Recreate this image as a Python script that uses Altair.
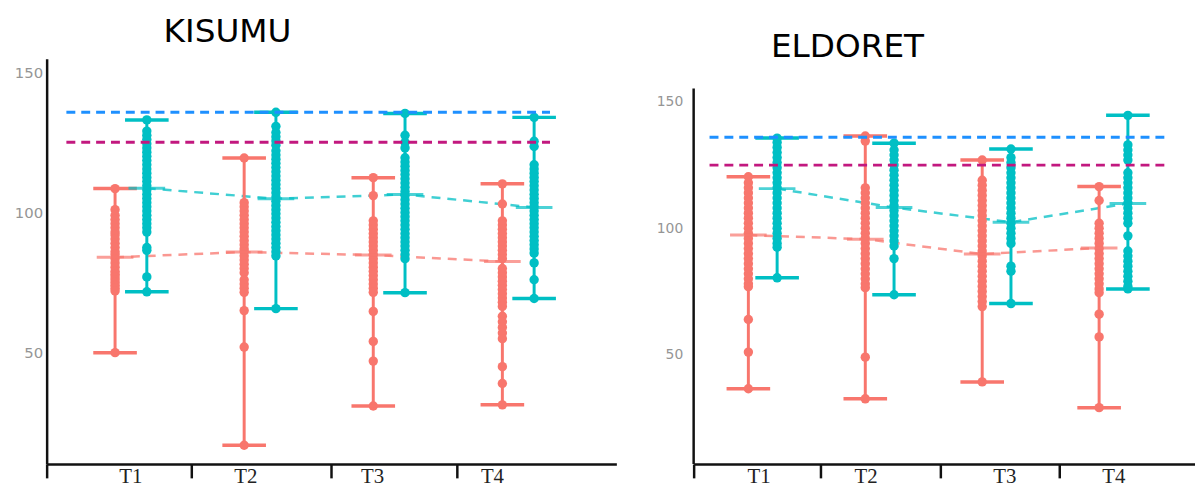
import altair as alt
import pandas as pd

times = ["T1", "T2", "T3", "T4"]
groups = ["Group A", "Group B"]
group_colors = ["#F8766D", "#00BFC4"]
ref_names = ["Upper reference", "Lower reference"]
ref_colors = ["#1E90FF", "#C2187F"]

# ---------------- KISUMU ----------------
kisumu_a_t1 = [108.5, 101, 99, 97.5, 96, 94.5, 93, 92, 90.5, 89, 87.5, 86, 85, 83.5, 82,
               80.5, 79, 78, 77, 76, 75, 74, 73, 72, 50]
kisumu_a_t2 = [119.4, 103.5, 102, 100.5, 99, 97.5, 96, 94.5, 93, 91.5, 90, 88.5, 87, 86,
               84.5, 83, 81.5, 80, 78.5, 76, 74.5, 73, 71.5, 65, 52, 17]
kisumu_a_t3 = [112.4, 106, 97, 95.5, 94, 92.5, 91, 89.5, 88, 86.5, 85, 83.5, 82, 80.5, 79,
               77.5, 76, 74.5, 73, 71.5, 64.7, 54, 47, 31]
kisumu_a_t4 = [110.2, 103, 97, 95.5, 94, 92.5, 91, 89.5, 88, 86.5, 85, 83.5, 80, 78.5, 77,
               75.5, 74, 72.5, 71, 69.5, 68, 66.5, 63, 61, 59, 57, 55, 45, 39, 31.4]
kisumu_b_t1 = [133, 129, 127.5, 126, 124.5, 123, 121.5, 120, 118.5, 117, 115.5, 114, 112.5,
               111, 109.5, 108, 106.5, 105, 103.5, 102, 100.5, 99, 97.5, 96, 94.5, 93, 87.5,
               86.5, 77, 71.7]
kisumu_b_t2 = [135.7, 130.7, 128.5, 127, 125.5, 124, 122, 120.5, 119, 117.5, 116, 114.5, 113,
               111.5, 110, 108.5, 107, 105.5, 104, 102.5, 101, 99.5, 98, 96.5, 95, 93.5, 92,
               90.5, 89, 87.5, 86, 84.5, 65.7]
kisumu_b_t3 = [135.3, 127.5, 125, 123, 119.5, 118, 116.5, 115, 113.5, 112, 110.5, 109, 107.5,
               106, 104.5, 103, 101.5, 100, 98.5, 97, 95.5, 94, 92.5, 91, 89.5, 88, 86.5, 85,
               83.5, 71.4]
kisumu_b_t4 = [133.9, 125.4, 123.5, 117, 115.5, 114, 112.5, 111, 109.5, 108, 106.5, 105,
               103.5, 102, 100.5, 99, 97.5, 96, 94.5, 93, 91.5, 90, 88.5, 87, 85.5, 82, 76,
               69.3]
kisumu_mean_a = [84.0, 85.9, 84.8, 82.5]
kisumu_mean_b = [108.6, 104.9, 106.4, 101.8]
kisumu_refs = [135.7, 125.0]

# ---------------- ELDORET ----------------
eldoret_a_t1 = [120.4, 118, 116, 114, 112, 110, 108, 106, 104, 102, 100, 98, 96, 94, 92, 90,
                88, 86, 84, 82, 80, 78, 76.9, 63.9, 51, 36.5]
eldoret_a_t2 = [136.5, 134.5, 116, 114, 112, 110, 108, 106, 104, 102, 100, 98, 96, 94, 92,
                90, 88, 86, 84, 82, 80, 78, 76.5, 49, 32.5]
eldoret_a_t3 = [127, 119, 117, 115, 113, 111, 109, 107, 105, 103, 101, 99, 97, 95, 93, 91,
                89, 87, 85, 83, 81, 79, 77, 75, 73, 71, 69, 39.2]
eldoret_a_t4 = [116.5, 111, 102, 100, 98, 96, 94, 92, 90, 88, 86, 84, 82, 80, 78, 76, 74.5,
                66, 57, 29]
eldoret_b_t1 = [135.7, 134, 132, 130, 128, 126, 124, 122, 120, 118, 116, 114, 112, 110, 108,
                106, 104, 102, 100, 98, 96, 94, 92.5, 80.4]
eldoret_b_t2 = [133.7, 131, 129, 127, 125, 123, 121, 119, 117, 115, 113, 111, 109, 107, 105,
                103, 101, 99, 97, 95, 93, 88, 73.7]
eldoret_b_t3 = [131.4, 128, 126, 124, 122, 120, 118, 116, 114, 112, 110, 108, 106, 104, 102,
                100, 98, 96, 94, 85, 83, 70.2]
eldoret_b_t4 = [144.7, 133, 131, 129, 127, 122, 120, 118, 116, 114, 112, 110, 108, 106, 104,
                102, 97, 91, 89, 87, 85, 83, 81, 79, 77, 76]
eldoret_mean_a = [97.3, 95.7, 89.8, 92.2]
eldoret_mean_b = [115.7, 108.2, 102.4, 109.8]
eldoret_refs = [136.0, 125.0]

y_tick_values = [50, 100, 150]

# axis decoration (in x-scale units: time index)
kisumu_separators = [0.347, 1.467, 2.549, 3.524]
kisumu_label_pos = [0.999, 1.89, 2.872, 3.80]
eldoret_separators = [0.409, 1.494, 2.519, 3.536]
eldoret_label_pos = [0.968, 1.884, 3.07, 4.002]

DODGE = 0.123


def panel(title, a_lists, b_lists, mean_a, mean_b, refs, ref_span, xdom, ydom,
          seps, label_pos, width, height, title_dx, title_offset, label_pad,
          label_size, axis_top=None):
    rows = []
    for ti, t in enumerate(times):
        for v in a_lists[ti]:
            rows.append(dict(time=t, group=groups[0], value=v, xpos=ti + 1 - DODGE))
        for v in b_lists[ti]:
            rows.append(dict(time=t, group=groups[1], value=v, xpos=ti + 1 + DODGE))
    pts = pd.DataFrame(rows)
    mrows = []
    for ti, t in enumerate(times):
        mrows.append(dict(time=t, group=groups[0], mean=mean_a[ti], xpos=ti + 1 - DODGE))
        mrows.append(dict(time=t, group=groups[1], mean=mean_b[ti], xpos=ti + 1 + DODGE))
    means = pd.DataFrame(mrows)

    xaxis = alt.Axis(values=seps, labels=False, ticks=True, tickSize=14, tickWidth=2.5,
                     tickColor="#111", domainColor="#111", domainWidth=2.5, grid=False,
                     title=None)
    yaxis = alt.Axis(values=y_tick_values, ticks=False, labelColor="#959595",
                     labelFont="DejaVu Sans", labelFontSize=label_size,
                     labelPadding=label_pad, domain=axis_top is None,
                     domainColor="#111", domainWidth=2.5, grid=False, title=None)
    xs = alt.Scale(domain=xdom, nice=False, zero=False)
    ys = alt.Scale(domain=ydom, nice=False, zero=False)

    def X(f):
        return alt.X(f, type="quantitative", scale=xs, axis=xaxis)

    def Y(f):
        return alt.Y(f, type="quantitative", scale=ys, axis=yaxis)

    color = alt.Color("group:N", scale=alt.Scale(domain=groups, range=group_colors),
                      legend=None)

    base = alt.Chart(pts)
    mean_lines = alt.Chart(means).mark_line(strokeDash=[9, 7], strokeWidth=2.5,
                                            opacity=0.75).encode(
        x=X("xpos"), y=Y("mean"), color=color, detail="group:N", order="xpos:Q")
    bars = base.mark_rule(strokeWidth=3).encode(
        x=X("xpos"), y=Y("min(value)"), y2="max(value)", color=color)
    dots = base.mark_circle(size=90, opacity=1).encode(
        x=X("xpos"), y=Y("value"), color=color)
    cap_lo = base.mark_tick(orient="horizontal", size=44, thickness=3.5).encode(
        x=X("xpos"), y=Y("min(value)"), color=color)
    cap_hi = base.mark_tick(orient="horizontal", size=44, thickness=3.5).encode(
        x=X("xpos"), y=Y("max(value)"), color=color)
    mean_ticks = alt.Chart(means).mark_tick(orient="horizontal", size=37,
                                           thickness=3).encode(
        x=X("xpos"), y=Y("mean"), color=color)

    layers = [mean_lines, bars, dots, cap_lo, cap_hi, mean_ticks]
    for name, lvl, col in zip(ref_names, refs, ref_colors):
        rdf = pd.DataFrame({"name": [name], "level": [lvl],
                            "x0": [ref_span[0]], "x1": [ref_span[1]]})
        layers.append(alt.Chart(rdf).mark_rule(color=col, strokeWidth=3,
                                               strokeDash=[9, 6]).encode(
            x=X("x0"), x2="x1", y=Y("level")))
    if axis_top is not None:
        adf = pd.DataFrame({"top": [axis_top], "bottom": [ydom[0]]})
        layers.append(alt.Chart(adf).mark_rule(color="#111", strokeWidth=2.5).encode(
            x=alt.value(0), y=Y("top"), y2="bottom"))
    ldf = pd.DataFrame({"label": times, "pos": label_pos})
    layers.append(alt.Chart(ldf).mark_text(font="Liberation Serif", fontSize=21,
                                           baseline="top", color="#222").encode(
        x=X("pos"), y=alt.value(height + 2), text="label:N"))

    return alt.layer(*layers).properties(
        width=width, height=height,
        title=alt.TitleParams(title, font="DejaVu Sans", fontSize=33, fontWeight="normal",
                              color="black", anchor="start", frame="group", dx=title_dx,
                              offset=title_offset, baseline="alphabetic"))


left = panel("KISUMU",
             [kisumu_a_t1, kisumu_a_t2, kisumu_a_t3, kisumu_a_t4],
             [kisumu_b_t1, kisumu_b_t2, kisumu_b_t3, kisumu_b_t4],
             kisumu_mean_a, kisumu_mean_b, kisumu_refs, [0.50, 4.246],
             [0.347, 4.76], [10.3, 154.8], kisumu_separators, kisumu_label_pos,
             575, 409, 118, -16, 4, 15)
right = panel("ELDORET",
              [eldoret_a_t1, eldoret_a_t2, eldoret_a_t3, eldoret_a_t4],
              [eldoret_b_t1, eldoret_b_t2, eldoret_b_t3, eldoret_b_t4],
              eldoret_mean_a, eldoret_mean_b, eldoret_refs, [0.545, 4.46],
              [0.409, 4.697], [6.7, 167.1], eldoret_separators, eldoret_label_pos,
              506, 409, 78, -31, 11, 14, axis_top=155.3)

chart = alt.hconcat(left, right, spacing=40).properties(
    padding={"left": 6, "top": 6, "right": 0, "bottom": 0}
).configure_view(stroke=None)

chart.save("out.html", embed_options={"renderer": "svg", "actions": False})
